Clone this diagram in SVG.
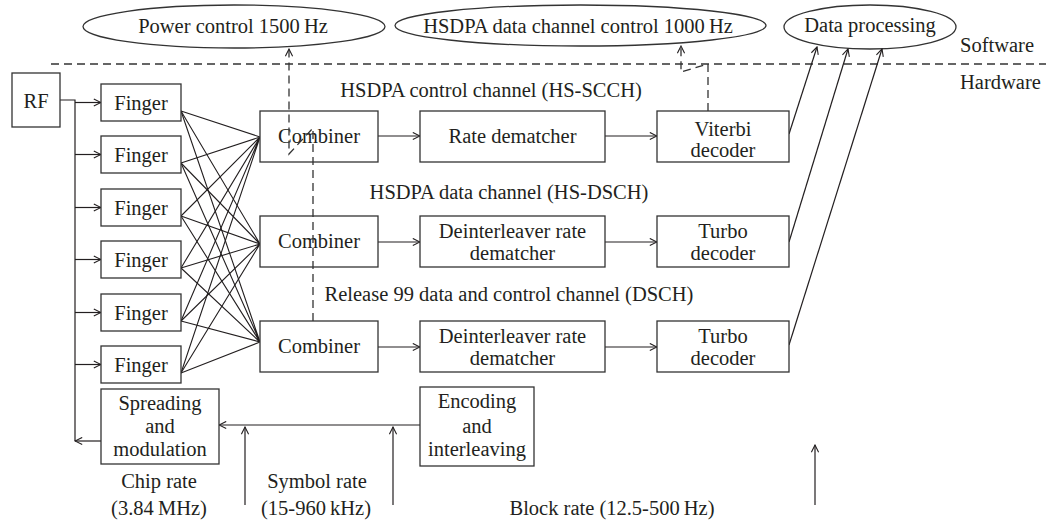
<svg xmlns="http://www.w3.org/2000/svg" width="1046" height="522" viewBox="0 0 1046 522" font-family="Liberation Serif, DejaVu Serif, serif">
  <style>
    .box { fill: #ffffff; stroke: #333333; stroke-width: 1.3; }
    .oval { fill: #ffffff; stroke: #333333; stroke-width: 1.3; }
    text { font-family: 'Liberation Serif', 'DejaVu Serif', serif; font-size: 20.5px; fill: #231f20; }
    .t { text-anchor: middle; }
    .tl { text-anchor: start; }
    .ln { fill: none; stroke: #231f20; stroke-width: 1.2; }
    .mesh { fill: none; stroke: #231f20; stroke-width: 1.1; }
    .dash { fill: none; stroke: #333333; stroke-width: 1.3; stroke-dasharray: 8 5; }
  </style>
  <defs>
    <marker id="arr" viewBox="0 0 10 10" refX="9" refY="5" markerWidth="9" markerHeight="9" markerUnits="userSpaceOnUse" orient="auto">
      <path d="M1,1 L9,5 L1,9" fill="none" stroke="#231f20" stroke-width="1.2" stroke-dasharray="none"/>
    </marker>
  </defs>
  <rect width="1046" height="522" fill="#ffffff"/>

  <!-- software / hardware boundary -->
  <g id="boundary">
    <line class="dash" x1="51" y1="64" x2="1046" y2="64"/>
    <text class="tl" x="960" y="52">Software</text>
    <text class="tl" x="960" y="89">Hardware</text>
  </g>

  <!-- software tasks -->
  <g id="power-control">
    <ellipse class="oval" cx="234" cy="26.5" rx="151" ry="21.5"/>
    <text class="t" x="233" y="33">Power control 1500&#8201;Hz</text>
  </g>
  <g id="hsdpa-control">
    <ellipse class="oval" cx="580.5" cy="25.5" rx="185.5" ry="20.5"/>
    <text class="t" x="578" y="33">HSDPA data channel control 1000&#8201;Hz</text>
  </g>
  <g id="data-processing">
    <ellipse class="oval" cx="870" cy="27" rx="86" ry="22"/>
    <text class="t" x="870" y="32">Data processing</text>
  </g>

  <!-- channel labels -->
  <g id="channel-labels">
    <text class="t" x="491" y="97">HSDPA control channel (HS-SCCH)</text>
    <text class="t" x="509" y="199">HSDPA data channel (HS-DSCH)</text>
    <text class="t" x="509" y="301">Release 99 data and control channel (DSCH)</text>
  </g>

  <!-- solid connectors -->
  <g id="connectors">
    <!-- RF distribution bus -->
    <polyline class="ln" points="60,100 75,100 75,441"/>
    <line class="ln" x1="75" y1="102.5" x2="101" y2="102.5" marker-end="url(#arr)"/>
    <line class="ln" x1="75" y1="154.5" x2="101" y2="154.5" marker-end="url(#arr)"/>
    <line class="ln" x1="75" y1="207.5" x2="101" y2="207.5" marker-end="url(#arr)"/>
    <line class="ln" x1="75" y1="259.5" x2="101" y2="259.5" marker-end="url(#arr)"/>
    <line class="ln" x1="75" y1="312.5" x2="101" y2="312.5" marker-end="url(#arr)"/>
    <line class="ln" x1="75" y1="364.5" x2="101" y2="364.5" marker-end="url(#arr)"/>
    <line class="ln" x1="101" y1="441" x2="75" y2="441" marker-end="url(#arr)"/>

    <!-- fingers to combiners -->
    <path class="mesh" d="M181,111 L260,137 M181,163 L260,137 M181,216 L260,137 M181,268 L260,137 M181,321 L260,137 M181,373 L260,137"/>
    <path class="mesh" d="M181,111 L260,244 M181,163 L260,244 M181,216 L260,244 M181,268 L260,244 M181,321 L260,244 M181,373 L260,244"/>
    <path class="mesh" d="M181,111 L260,342 M181,163 L260,342 M181,216 L260,342 M181,268 L260,342 M181,321 L260,342 M181,373 L260,342"/>

    <!-- processing chains -->
    <line class="ln" x1="378" y1="136" x2="420" y2="136" marker-end="url(#arr)"/>
    <line class="ln" x1="605" y1="136" x2="657" y2="136" marker-end="url(#arr)"/>
    <line class="ln" x1="378" y1="242" x2="420" y2="242" marker-end="url(#arr)"/>
    <line class="ln" x1="605" y1="242" x2="657" y2="242" marker-end="url(#arr)"/>
    <line class="ln" x1="378" y1="347" x2="420" y2="347" marker-end="url(#arr)"/>
    <line class="ln" x1="605" y1="347" x2="657" y2="347" marker-end="url(#arr)"/>

    <!-- decoders to data processing -->
    <line class="ln" x1="789" y1="134" x2="817" y2="47" marker-end="url(#arr)"/>
    <line class="ln" x1="789" y1="242" x2="848" y2="49" marker-end="url(#arr)"/>
    <line class="ln" x1="789" y1="345" x2="882" y2="49" marker-end="url(#arr)"/>

    <!-- transmit path -->
    <line class="ln" x1="420" y1="425" x2="219" y2="425" marker-end="url(#arr)"/>

    <!-- rate markers -->
    <line class="ln" x1="245" y1="505" x2="245" y2="427" marker-end="url(#arr)"/>
    <line class="ln" x1="393" y1="505" x2="393" y2="427" marker-end="url(#arr)"/>
    <line class="ln" x1="815" y1="505" x2="815" y2="445" marker-end="url(#arr)"/>
  </g>

  <!-- nodes -->
  <g id="rf">
    <rect class="box" x="12" y="73" width="48" height="54"/>
    <text class="t" x="36" y="108">RF</text>
  </g>
  <g id="finger1">
    <rect class="box" x="101" y="84" width="80" height="37"/>
    <text class="t" x="141" y="110">Finger</text>
  </g>
  <g id="finger2">
    <rect class="box" x="101" y="136" width="80" height="37"/>
    <text class="t" x="141" y="162">Finger</text>
  </g>
  <g id="finger3">
    <rect class="box" x="101" y="189" width="80" height="37"/>
    <text class="t" x="141" y="215">Finger</text>
  </g>
  <g id="finger4">
    <rect class="box" x="101" y="241" width="80" height="37"/>
    <text class="t" x="141" y="267">Finger</text>
  </g>
  <g id="finger5">
    <rect class="box" x="101" y="294" width="80" height="37"/>
    <text class="t" x="141" y="320">Finger</text>
  </g>
  <g id="finger6">
    <rect class="box" x="101" y="346" width="80" height="37"/>
    <text class="t" x="141" y="372">Finger</text>
  </g>

  <g id="combiner1">
    <rect class="box" x="260" y="111" width="118" height="51"/>
    <text class="t" x="319" y="143">Combiner</text>
  </g>
  <g id="combiner2">
    <rect class="box" x="260" y="216" width="118" height="51"/>
    <text class="t" x="319" y="248">Combiner</text>
  </g>
  <g id="combiner3">
    <rect class="box" x="260" y="321" width="118" height="51"/>
    <text class="t" x="319" y="353">Combiner</text>
  </g>

  <g id="rate-dematcher">
    <rect class="box" x="420" y="111" width="185" height="51"/>
    <text class="t" x="512.5" y="143">Rate dematcher</text>
  </g>
  <g id="deinterleaver1">
    <rect class="box" x="420" y="216" width="185" height="51"/>
    <text class="t" x="512.5" y="238">Deinterleaver rate</text>
    <text class="t" x="512.5" y="260">dematcher</text>
  </g>
  <g id="deinterleaver2">
    <rect class="box" x="420" y="321" width="185" height="51"/>
    <text class="t" x="512.5" y="343">Deinterleaver rate</text>
    <text class="t" x="512.5" y="365">dematcher</text>
  </g>

  <g id="viterbi">
    <rect class="box" x="657" y="111" width="132" height="51"/>
    <text class="t" x="723" y="136">Viterbi</text>
    <text class="t" x="723" y="157">decoder</text>
  </g>
  <g id="turbo1">
    <rect class="box" x="657" y="216" width="132" height="51"/>
    <text class="t" x="723" y="238">Turbo</text>
    <text class="t" x="723" y="260">decoder</text>
  </g>
  <g id="turbo2">
    <rect class="box" x="657" y="321" width="132" height="51"/>
    <text class="t" x="723" y="343">Turbo</text>
    <text class="t" x="723" y="365">decoder</text>
  </g>

  <g id="spreading">
    <rect class="box" x="101" y="389" width="118" height="75"/>
    <text class="t" x="160" y="410">Spreading</text>
    <text class="t" x="160" y="433">and</text>
    <text class="t" x="160" y="456">modulation</text>
  </g>
  <g id="encoding">
    <rect class="box" x="420" y="387" width="114" height="79"/>
    <text class="t" x="477" y="408">Encoding</text>
    <text class="t" x="477" y="433">and</text>
    <text class="t" x="477" y="456">interleaving</text>
  </g>

  <!-- control feedback to software, drawn over the combiner boxes -->
  <g id="control-links">
    <polyline class="dash" points="313,321 313,128 289,154 289,49" marker-end="url(#arr)"/>
    <polyline class="dash" points="708,111 708,64 681,72 681,46" marker-end="url(#arr)"/>
  </g>

  <!-- rate annotations -->
  <g id="rate-labels">
    <text class="t" x="159" y="488">Chip rate</text>
    <text class="t" x="159" y="515">(3.84&#8201;MHz)</text>
    <text class="t" x="317" y="488">Symbol rate</text>
    <text class="t" x="316" y="515">(15-960&#8201;kHz)</text>
    <text class="t" x="612" y="515">Block rate (12.5-500&#8201;Hz)</text>
  </g>
</svg>
